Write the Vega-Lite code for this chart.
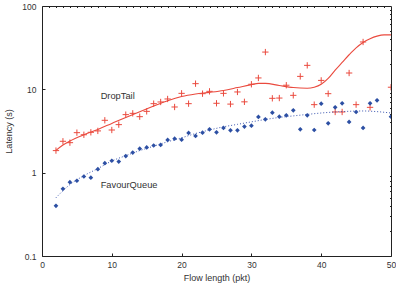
{
  "$schema": "https://vega.github.io/schema/vega-lite/v6.json",
  "autosize": {"type": "none"},
  "padding": {"left": 42, "top": 6, "right": 5, "bottom": 29},
  "width": 349,
  "height": 250,
  "config": {
    "view": {"stroke": "#222", "strokeWidth": 1},
    "font": "Liberation Sans",
    "axis": {"grid": false, "domainColor": "#222", "tickColor": "#222", "labelColor": "#333", "titleColor": "#333", "labelFont": "Liberation Sans", "titleFont": "Liberation Sans", "titleFontWeight": "normal"}
  },
  "datasets": {
    "points": [
      {"x": 2, "latency": 1.84, "queue": "DropTail"}, {"x": 3, "latency": 2.38, "queue": "DropTail"},
      {"x": 4, "latency": 2.29, "queue": "DropTail"}, {"x": 5, "latency": 3.02, "queue": "DropTail"},
      {"x": 6, "latency": 2.85, "queue": "DropTail"}, {"x": 7, "latency": 3.05, "queue": "DropTail"},
      {"x": 8, "latency": 3.17, "queue": "DropTail"}, {"x": 9, "latency": 4.25, "queue": "DropTail"},
      {"x": 10, "latency": 3.25, "queue": "DropTail"}, {"x": 11, "latency": 3.77, "queue": "DropTail"},
      {"x": 12, "latency": 4.97, "queue": "DropTail"}, {"x": 13, "latency": 5.15, "queue": "DropTail"},
      {"x": 14, "latency": 4.7, "queue": "DropTail"}, {"x": 15, "latency": 5.44, "queue": "DropTail"},
      {"x": 16, "latency": 6.73, "queue": "DropTail"}, {"x": 17, "latency": 7.05, "queue": "DropTail"},
      {"x": 18, "latency": 7.66, "queue": "DropTail"}, {"x": 19, "latency": 6.14, "queue": "DropTail"},
      {"x": 20, "latency": 8.95, "queue": "DropTail"}, {"x": 21, "latency": 6.73, "queue": "DropTail"},
      {"x": 22, "latency": 11.7, "queue": "DropTail"}, {"x": 23, "latency": 8.87, "queue": "DropTail"},
      {"x": 24, "latency": 9.46, "queue": "DropTail"}, {"x": 25, "latency": 6.8, "queue": "DropTail"},
      {"x": 26, "latency": 8.95, "queue": "DropTail"}, {"x": 27, "latency": 6.65, "queue": "DropTail"},
      {"x": 28, "latency": 9.3, "queue": "DropTail"}, {"x": 29, "latency": 7.08, "queue": "DropTail"},
      {"x": 30, "latency": 11.5, "queue": "DropTail"}, {"x": 31, "latency": 13.7, "queue": "DropTail"},
      {"x": 32, "latency": 28, "queue": "DropTail"}, {"x": 33, "latency": 7.8, "queue": "DropTail"},
      {"x": 34, "latency": 7.86, "queue": "DropTail"}, {"x": 35, "latency": 11.2, "queue": "DropTail"},
      {"x": 36, "latency": 8.47, "queue": "DropTail"}, {"x": 37, "latency": 14.3, "queue": "DropTail"},
      {"x": 38, "latency": 19.4, "queue": "DropTail"}, {"x": 39, "latency": 6.55, "queue": "DropTail"},
      {"x": 40, "latency": 12.8, "queue": "DropTail"}, {"x": 41, "latency": 8.87, "queue": "DropTail"},
      {"x": 42, "latency": 5.35, "queue": "DropTail"}, {"x": 43, "latency": 5.35, "queue": "DropTail"},
      {"x": 44, "latency": 15.7, "queue": "DropTail"}, {"x": 45, "latency": 6.55, "queue": "DropTail"},
      {"x": 46, "latency": 37, "queue": "DropTail"}, {"x": 47, "latency": 6.08, "queue": "DropTail"},
      {"x": 50, "latency": 10.6, "queue": "DropTail"},
      {"x": 2, "latency": 0.4, "queue": "FavourQueue"}, {"x": 3, "latency": 0.64, "queue": "FavourQueue"},
      {"x": 4, "latency": 0.77, "queue": "FavourQueue"}, {"x": 5, "latency": 0.8, "queue": "FavourQueue"},
      {"x": 6, "latency": 0.9, "queue": "FavourQueue"}, {"x": 7, "latency": 0.87, "queue": "FavourQueue"},
      {"x": 8, "latency": 1.1, "queue": "FavourQueue"}, {"x": 9, "latency": 1.3, "queue": "FavourQueue"},
      {"x": 10, "latency": 1.39, "queue": "FavourQueue"}, {"x": 11, "latency": 1.36, "queue": "FavourQueue"},
      {"x": 12, "latency": 1.58, "queue": "FavourQueue"}, {"x": 13, "latency": 1.74, "queue": "FavourQueue"},
      {"x": 14, "latency": 1.94, "queue": "FavourQueue"}, {"x": 15, "latency": 2.01, "queue": "FavourQueue"},
      {"x": 16, "latency": 2.12, "queue": "FavourQueue"}, {"x": 17, "latency": 2.15, "queue": "FavourQueue"},
      {"x": 18, "latency": 2.47, "queue": "FavourQueue"}, {"x": 19, "latency": 2.56, "queue": "FavourQueue"},
      {"x": 20, "latency": 2.49, "queue": "FavourQueue"}, {"x": 21, "latency": 3.0, "queue": "FavourQueue"},
      {"x": 22, "latency": 2.76, "queue": "FavourQueue"}, {"x": 23, "latency": 3.02, "queue": "FavourQueue"},
      {"x": 24, "latency": 3.31, "queue": "FavourQueue"}, {"x": 25, "latency": 3.05, "queue": "FavourQueue"},
      {"x": 26, "latency": 3.44, "queue": "FavourQueue"}, {"x": 27, "latency": 3.22, "queue": "FavourQueue"},
      {"x": 28, "latency": 3.22, "queue": "FavourQueue"}, {"x": 29, "latency": 3.57, "queue": "FavourQueue"},
      {"x": 30, "latency": 3.66, "queue": "FavourQueue"}, {"x": 31, "latency": 4.66, "queue": "FavourQueue"},
      {"x": 32, "latency": 4.37, "queue": "FavourQueue"}, {"x": 33, "latency": 5.25, "queue": "FavourQueue"},
      {"x": 34, "latency": 4.7, "queue": "FavourQueue"}, {"x": 35, "latency": 4.87, "queue": "FavourQueue"},
      {"x": 36, "latency": 5.6, "queue": "FavourQueue"}, {"x": 37, "latency": 3.31, "queue": "FavourQueue"},
      {"x": 38, "latency": 4.87, "queue": "FavourQueue"}, {"x": 39, "latency": 3.25, "queue": "FavourQueue"},
      {"x": 40, "latency": 6.73, "queue": "FavourQueue"}, {"x": 41, "latency": 3.91, "queue": "FavourQueue"},
      {"x": 42, "latency": 6.08, "queue": "FavourQueue"}, {"x": 43, "latency": 6.79, "queue": "FavourQueue"},
      {"x": 44, "latency": 4.06, "queue": "FavourQueue"}, {"x": 45, "latency": 5.35, "queue": "FavourQueue"},
      {"x": 46, "latency": 3.44, "queue": "FavourQueue"}, {"x": 47, "latency": 6.79, "queue": "FavourQueue"},
      {"x": 48, "latency": 7.38, "queue": "FavourQueue"}, {"x": 50, "latency": 4.7, "queue": "FavourQueue"}
    ],
    "fits": [
      {"x": 2, "latency": 1.85, "queue": "DropTail"}, {"x": 3, "latency": 2.15, "queue": "DropTail"},
      {"x": 4, "latency": 2.4, "queue": "DropTail"}, {"x": 6, "latency": 2.85, "queue": "DropTail"},
      {"x": 8, "latency": 3.3, "queue": "DropTail"}, {"x": 10, "latency": 3.9, "queue": "DropTail"},
      {"x": 12, "latency": 4.6, "queue": "DropTail"}, {"x": 14, "latency": 5.4, "queue": "DropTail"},
      {"x": 16, "latency": 6.3, "queue": "DropTail"}, {"x": 18, "latency": 7.3, "queue": "DropTail"},
      {"x": 20, "latency": 8.2, "queue": "DropTail"}, {"x": 22, "latency": 8.8, "queue": "DropTail"},
      {"x": 24, "latency": 9.2, "queue": "DropTail"}, {"x": 26, "latency": 9.7, "queue": "DropTail"},
      {"x": 28, "latency": 10.5, "queue": "DropTail"}, {"x": 30, "latency": 11.4, "queue": "DropTail"},
      {"x": 31, "latency": 11.8, "queue": "DropTail"}, {"x": 32, "latency": 11.8, "queue": "DropTail"},
      {"x": 34, "latency": 11.1, "queue": "DropTail"}, {"x": 36, "latency": 10.5, "queue": "DropTail"},
      {"x": 38, "latency": 10.3, "queue": "DropTail"}, {"x": 39, "latency": 10.6, "queue": "DropTail"},
      {"x": 40, "latency": 11.5, "queue": "DropTail"}, {"x": 41, "latency": 13.5, "queue": "DropTail"},
      {"x": 42, "latency": 17, "queue": "DropTail"}, {"x": 43, "latency": 21, "queue": "DropTail"},
      {"x": 44, "latency": 26, "queue": "DropTail"}, {"x": 45, "latency": 31.5, "queue": "DropTail"},
      {"x": 46, "latency": 36.5, "queue": "DropTail"}, {"x": 47, "latency": 40.5, "queue": "DropTail"},
      {"x": 48, "latency": 43.5, "queue": "DropTail"}, {"x": 49, "latency": 45, "queue": "DropTail"},
      {"x": 50, "latency": 45, "queue": "DropTail"},
      {"x": 2, "latency": 0.5, "queue": "FavourQueue"}, {"x": 4, "latency": 0.72, "queue": "FavourQueue"},
      {"x": 6, "latency": 0.92, "queue": "FavourQueue"}, {"x": 8, "latency": 1.12, "queue": "FavourQueue"},
      {"x": 10, "latency": 1.38, "queue": "FavourQueue"}, {"x": 12, "latency": 1.6, "queue": "FavourQueue"},
      {"x": 14, "latency": 1.84, "queue": "FavourQueue"}, {"x": 16, "latency": 2.08, "queue": "FavourQueue"},
      {"x": 18, "latency": 2.35, "queue": "FavourQueue"}, {"x": 20, "latency": 2.62, "queue": "FavourQueue"},
      {"x": 22, "latency": 2.95, "queue": "FavourQueue"}, {"x": 24, "latency": 3.25, "queue": "FavourQueue"},
      {"x": 26, "latency": 3.55, "queue": "FavourQueue"}, {"x": 28, "latency": 3.8, "queue": "FavourQueue"},
      {"x": 30, "latency": 4.07, "queue": "FavourQueue"}, {"x": 32, "latency": 4.35, "queue": "FavourQueue"},
      {"x": 34, "latency": 4.6, "queue": "FavourQueue"}, {"x": 36, "latency": 4.8, "queue": "FavourQueue"},
      {"x": 38, "latency": 5.0, "queue": "FavourQueue"}, {"x": 40, "latency": 5.2, "queue": "FavourQueue"},
      {"x": 42, "latency": 5.35, "queue": "FavourQueue"}, {"x": 44, "latency": 5.45, "queue": "FavourQueue"},
      {"x": 46, "latency": 5.5, "queue": "FavourQueue"}, {"x": 48, "latency": 5.4, "queue": "FavourQueue"},
      {"x": 50, "latency": 5.2, "queue": "FavourQueue"}
    ],
    "labels": [
      {"x": 8.4, "latency": 8.3, "text": "DropTail"},
      {"x": 8.4, "latency": 0.72, "text": "FavourQueue"}
    ]
  },
  "resolve": {"axis": {"x": "independent", "y": "independent"}},
  "layer": [
    {
      "data": {"name": "points"},
      "transform": [{"filter": "datum.queue === 'DropTail'"}],
      "mark": {"type": "point", "shape": "M-1,0L1,0M0,-1L0,1", "filled": false, "size": 40, "strokeWidth": 1, "color": "#ea4a3e", "opacity": 1, "clip": true},
      "encoding": {
        "x": {"field": "x", "type": "quantitative", "scale": {"domain": [0, 50], "nice": false, "zero": false},
          "axis": {"title": "Flow length (pkt)", "titleFontSize": 9, "titlePadding": 5, "values": [0, 10, 20, 30, 40, 50], "labelFontSize": 8.5, "tickSize": -3, "labelPadding": 7, "domain": false, "labelFlush": false}},
        "y": {"field": "latency", "type": "quantitative", "scale": {"type": "log", "domain": [0.1, 100], "nice": false},
          "axis": {"title": "Latency (s)", "titleFontSize": 9, "titlePadding": 8, "values": [0.1, 1, 10, 100], "format": "~g", "labelFontSize": 8.5, "tickSize": -3, "labelPadding": 9, "domain": false, "labelFlush": false}}
      }
    },
    {
      "data": {"name": "points"},
      "transform": [{"filter": "datum.queue === 'FavourQueue'"}],
      "mark": {"type": "point", "shape": "diamond", "filled": true, "size": 22, "color": "#2c4fa3", "opacity": 1, "clip": true},
      "encoding": {
        "x": {"field": "x", "type": "quantitative", "scale": {"domain": [0, 50], "nice": false, "zero": false},
          "axis": {"title": null, "labels": false, "domain": false, "tickSize": -1.5, "values": [1,2,3,4,5,6,7,8,9,11,12,13,14,15,16,17,18,19,21,22,23,24,25,26,27,28,29,31,32,33,34,35,36,37,38,39,41,42,43,44,45,46,47,48,49]}},
        "y": {"field": "latency", "type": "quantitative", "scale": {"type": "log", "domain": [0.1, 100], "nice": false},
          "axis": {"title": null, "labels": false, "domain": false, "tickSize": -1.5, "values": [0.2,0.3,0.4,0.5,0.6,0.7,0.8,0.9,2,3,4,5,6,7,8,9,20,30,40,50,60,70,80,90]}}
      }
    },
    {
      "data": {"name": "fits"},
      "transform": [{"filter": "datum.queue === 'DropTail'"}],
      "mark": {"type": "line", "interpolate": "monotone", "color": "#ea4a3e", "strokeWidth": 1.1, "clip": true},
      "encoding": {
        "x": {"field": "x", "type": "quantitative", "axis": null},
        "y": {"field": "latency", "type": "quantitative", "axis": null}
      }
    },
    {
      "data": {"name": "fits"},
      "transform": [{"filter": "datum.queue === 'FavourQueue'"}],
      "mark": {"type": "line", "interpolate": "monotone", "color": "#3a55b0", "strokeWidth": 1, "strokeDash": [1, 2], "clip": true},
      "encoding": {
        "x": {"field": "x", "type": "quantitative", "axis": null},
        "y": {"field": "latency", "type": "quantitative", "axis": null}
      }
    },
    {
      "data": {"name": "labels"},
      "mark": {"type": "text", "align": "left", "baseline": "middle", "fontSize": 9.3, "font": "Liberation Sans", "color": "#333"},
      "encoding": {
        "x": {"field": "x", "type": "quantitative", "axis": null},
        "y": {"field": "latency", "type": "quantitative", "axis": null},
        "text": {"field": "text"}
      }
    }
  ]
}
